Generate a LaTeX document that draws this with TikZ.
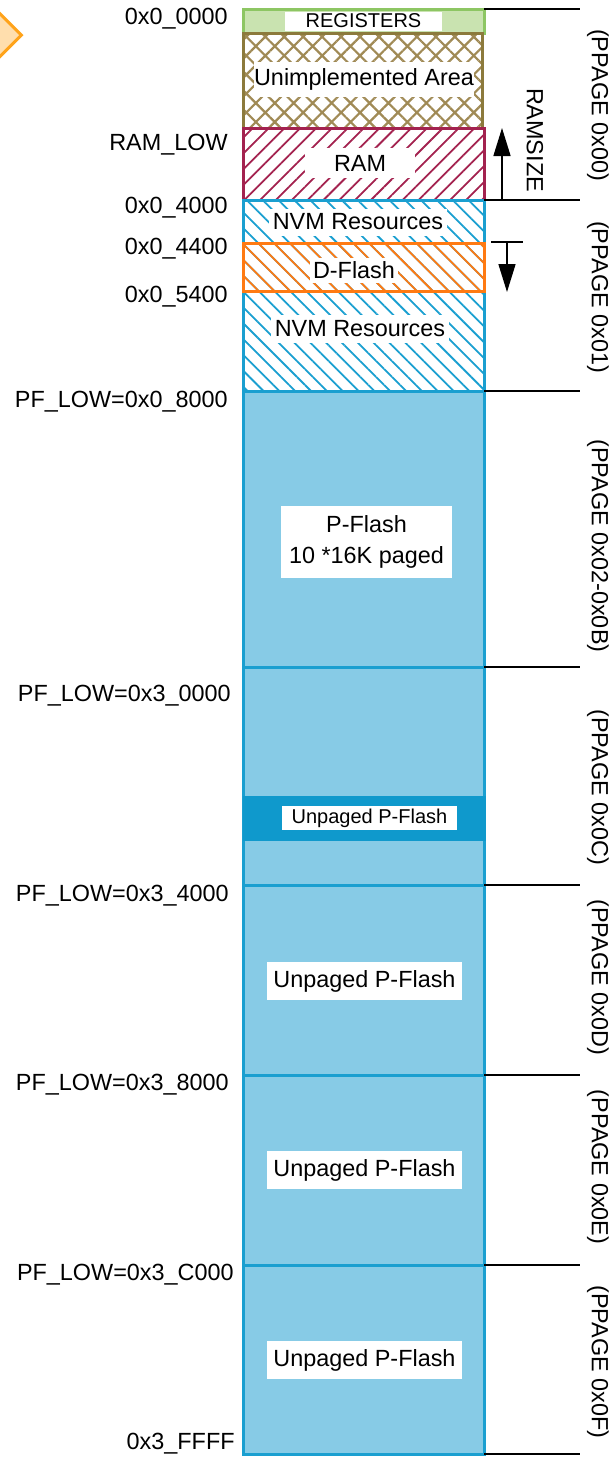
\documentclass[tikz,border=0pt]{standalone}
\usepackage{fontspec}
\setmainfont{Liberation Sans}
\usetikzlibrary{arrows.meta, patterns.meta, shapes.geometric}

\definecolor{regfill}{HTML}{C9E3B0}
\definecolor{regline}{HTML}{8DC663}
\definecolor{unimline}{HTML}{8C7A3C}
\definecolor{unimhatch}{HTML}{A08A55}
\definecolor{ramline}{HTML}{A3224F}
\definecolor{nvmline}{HTML}{1A9FD0}
\definecolor{dfline}{HTML}{FF7A12}
\definecolor{pffill}{HTML}{87CBE6}
\definecolor{bandfill}{HTML}{0F99CC}
\definecolor{prevfill}{HTML}{FFDEAD}
\definecolor{prevline}{HTML}{FFA31A}

\newcommand{\bigtxt}{\fontsize{11.7}{15.5}\selectfont}
\newcommand{\smalltxt}{\fontsize{10}{12}\selectfont}

\begin{document}
\begin{tikzpicture}[
    x=0.5pt, y=-0.5pt,
    % Region styles
    regs/.style={draw=regline, fill=regfill, line width=1.5pt},
    unimpl/.style={draw=unimline, line width=1.5pt,
        pattern={Hatch[angle=45, distance=6.7pt, line width=1.1pt]},
        pattern color=unimhatch},
    ram/.style={draw=ramline, line width=1.5pt,
        pattern={Lines[angle=45, distance=5.6pt, line width=0.9pt]},
        pattern color=ramline},
    nvm/.style={draw=nvmline, line width=1.5pt,
        pattern={Lines[angle=-45, distance=5.6pt, line width=0.9pt]},
        pattern color=nvmline},
    dflash/.style={draw=dfline, line width=1.5pt,
        pattern={Lines[angle=-45, distance=5.6pt, line width=0.9pt]},
        pattern color=dfline},
    pflash/.style={draw=nvmline, fill=pffill, line width=1.5pt},
    band/.style={fill=bandfill},
    prevshape/.style={diamond, aspect=1, draw=prevline, fill=prevfill,
        line width=1.5pt, minimum size=44pt, inner sep=0pt},
    % Text styles
    lbl/.style={fill=white, font=\bigtxt, inner sep=0pt, align=center},
    lblsmall/.style={fill=white, font=\smalltxt, inner sep=0pt},
    addr/.style={anchor=east, font=\bigtxt, inner sep=0pt},
    ppage/.style={rotate=-90, font=\bigtxt, inner sep=0pt},
    % Lines
    tick/.style={draw=black, line width=0.75pt},
    sizearrow/.style={-{Triangle[length=14pt, width=8.5pt]}, line width=0.75pt}
]

\useasboundingbox (0,0) rectangle (613,1458);

% ============================================================
% Cut-off shape at the left edge
% ============================================================

\begin{scope}
    \clip (0,0) rectangle (613,1458);
    \node[prevshape] (prev) at (-22,35) {};
\end{scope}

% ============================================================
% Memory column
% ============================================================

\draw[regs] (243,9) rectangle (484,33);
\draw[unimpl] (243,33) rectangle (482,128);
\draw[ram] (243,128) rectangle (484,200);
\draw[nvm] (243,200) rectangle (484,391);
\draw[dflash] (243,243) rectangle (484,291);

% P-Flash pages
\foreach \ya/\yb in {391/667, 667/885, 885/1075, 1075/1265, 1265/1454}
    \draw[pflash] (243,\ya) rectangle (484,\yb);
\fill[band] (243,796) rectangle (486,841);

% -- Labels inside the column --
\node[lblsmall, minimum width=78.5pt, minimum height=9.5pt] (regs) at (363.5,21) {REGISTERS};
\node[lbl, minimum width=106pt, minimum height=17.5pt] (unimpl) at (364,79.5) {Unimplemented Area};
\node[lbl, minimum width=55pt, minimum height=15pt] (ram) at (360,163) {RAM};
\node[lbl, minimum width=89pt, minimum height=13.5pt] (nvma) at (358,222) {NVM Resources};
\node[lbl, minimum width=44pt, minimum height=12.5pt] (dflash) at (354,270) {D-Flash};
\node[lbl, minimum width=89pt, minimum height=14pt] (nvmb) at (360,329) {NVM Resources};
\node[lbl, minimum width=85.5pt, minimum height=36pt] (pflash) at (366.5,542) {P-Flash\\10 *16K paged};
\node[lblsmall, minimum width=87.5pt, minimum height=12pt] (unpgc) at (369.5,818) {Unpaged P-Flash};
\node[lbl, minimum width=97.5pt, minimum height=19pt] (unpgd) at (364.5,981) {Unpaged P-Flash};
\node[lbl, minimum width=97.5pt, minimum height=19pt] (unpge) at (364.5,1170) {Unpaged P-Flash};
\node[lbl, minimum width=97.5pt, minimum height=19pt] (unpgf) at (364.5,1360) {Unpaged P-Flash};

% ============================================================
% Addresses on the left
% ============================================================

\node[addr] (a0) at (228,19) {0x0\_0000};
\node[addr] (ramlow) at (228,145) {RAM\_LOW};
\node[addr] (a4000) at (228,208) {0x0\_4000};
\node[addr] (a4400) at (228,249) {0x0\_4400};
\node[addr] (a5400) at (228,297) {0x0\_5400};
\node[addr] (pf8000) at (228,402) {PF\_LOW=0x0\_8000};
\node[addr] (pf30000) at (231,696) {PF\_LOW=0x3\_0000};
\node[addr] (pf34000) at (229,896) {PF\_LOW=0x3\_4000};
\node[addr] (pf38000) at (229,1085) {PF\_LOW=0x3\_8000};
\node[addr] (pf3c000) at (234,1275) {PF\_LOW=0x3\_C000};
\node[addr] (aend) at (235,1444) {0x3\_FFFF};

% ============================================================
% Page boundaries and PPAGE labels on the right
% ============================================================

\foreach \y [count=\i] in {9, 200, 391, 667, 885, 1075, 1265, 1454} {
    \coordinate (lft\i) at (484,\y);
    \coordinate (rgt\i) at (580,\y);
    \draw[tick] (lft\i) -- (rgt\i);
}

\node[ppage] (pp00) at (598,105) {(PPAGE 0x00)};
\node[ppage] (pp01) at (598,297) {(PPAGE 0x01)};
\node[ppage] (pp02) at (598,546) {(PPAGE 0x02-0x0B)};
\node[ppage] (pp0c) at (598,787) {(PPAGE 0x0C)};
\node[ppage] (pp0d) at (598,977) {(PPAGE 0x0D)};
\node[ppage] (pp0e) at (598,1167) {(PPAGE 0x0E)};
\node[ppage] (pp0f) at (598,1362) {(PPAGE 0x0F)};

% -- RAMSIZE grows upwards --
\coordinate (rsbot) at (502,200);
\coordinate (rstop) at (502,128);
\draw[sizearrow] (rsbot) -- (rstop);
\node[ppage] (ramsize) at (535,140) {RAMSIZE};

% -- D-Flash grows downwards --
\coordinate (dfbarl) at (491,242);
\coordinate (dfbarr) at (523,242);
\coordinate (dftop) at (507,242);
\coordinate (dfbot) at (507,292);
\draw[tick] (dfbarl) -- (dfbarr);
\draw[sizearrow] (dftop) -- (dfbot);

\end{tikzpicture}
\end{document}
